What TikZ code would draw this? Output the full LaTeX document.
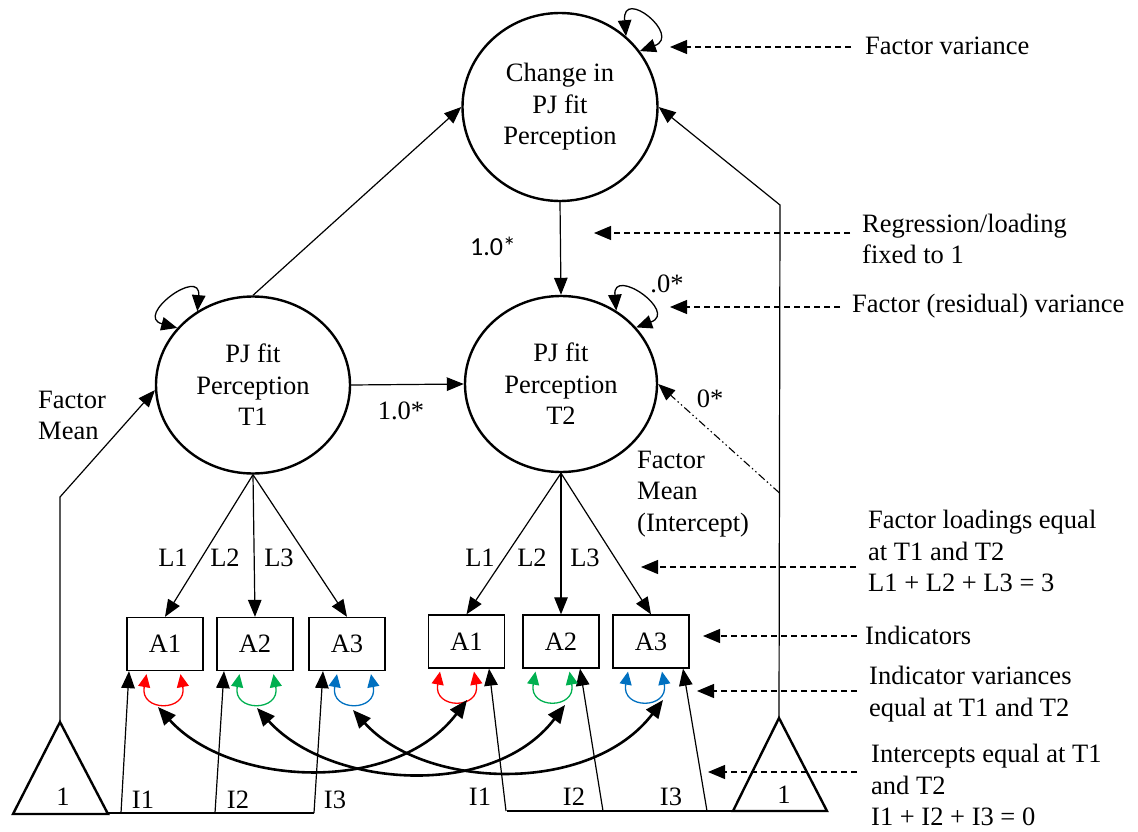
\documentclass[tikz,border=0pt]{standalone}
\usepackage{fontspec}
\setmainfont{Liberation Serif}
\newfontfamily\calibrifont{Carlito}
\usetikzlibrary{arrows.meta,shapes.geometric,calc}
\definecolor{varred}{RGB}{255,0,0}
\definecolor{vargreen}{RGB}{0,176,80}
\definecolor{varblue}{RGB}{0,112,192}

\begin{document}
\begin{tikzpicture}[x=1pt,y=1pt,
  lbl/.style={font=\fontsize{26.5}{31.5}\selectfont, inner sep=0pt, align=left},
  latent/.style={draw, line width=2.4pt, ellipse, inner sep=0pt, align=center,
    font=\fontsize{26.5}{31.5}\selectfont},
  indicator/.style={draw, line width=1.3pt, minimum width=76pt, minimum height=53pt,
    inner sep=0pt, font=\fontsize{26.5}{31.5}\selectfont},
  reg/.style={line width=1.2pt, -{Triangle[length=17pt,width=13.5pt]}},
  plain/.style={line width=1.2pt},
  cov/.style={line width=1.3pt, {Triangle[length=16pt,width=13.5pt]}-{Triangle[length=16pt,width=13.5pt]}},
  resid/.style={line width=1.3pt, {Triangle[length=13pt,width=12pt]}-{Triangle[length=13pt,width=12pt]}},
  cross/.style={line width=2.6pt, {Triangle[length=18pt,width=15pt]}-{Triangle[length=18pt,width=15pt]}},
  note/.style={line width=1.2pt, dash pattern=on 6pt off 4pt, -{Triangle[length=17pt,width=14pt]}},
  meanline/.style={line width=1.1pt, dash pattern=on 8pt off 3pt on 1.5pt off 3pt on 1.5pt off 3pt,
    -{Triangle[length=17pt,width=13.5pt]}},
]
\useasboundingbox (0,0) rectangle (1138,-832);

% latent factors
\node[latent, minimum width=195pt, minimum height=188pt] (ch) at (560,-107) {Change in\\PJ fit\\Perception};
\node[latent, minimum width=194pt, minimum height=177pt] (t1) at (253,-385) {PJ fit\\Perception\\T1};
\node[latent, minimum width=192pt, minimum height=176pt] (t2) at (561,-384) {PJ fit\\Perception\\T2};

% indicators
\node[indicator] (a11) at (165,-644) {A1};
\node[indicator] (a12) at (255,-644) {A2};
\node[indicator] (a13) at (347,-644) {A3};
\node[indicator] (a21) at (466.5,-641.5) {A1};
\node[indicator] (a22) at (561,-641.5) {A2};
\node[indicator] (a23) at (651,-641.5) {A3};

% structural paths
\draw[reg] (t1.north) -- (ch.west);
\draw[reg] (ch.south) -- (t2.north);
\draw[reg] (t1.east) -- (t2.west);
\node[font=\calibrifont\fontsize{26}{31}\selectfont, inner sep=0pt] (w1) at (493,-246) {1.0*};
\node[lbl] (w2) at (401,-411) {1.0*};

% factor variances
\draw[cov] (ch.47) .. controls +(95:50) and +(20:45) .. (ch.35);
\draw[cov] (t1.127) .. controls +(85:45) and +(165:45) .. (t1.143);
\draw[cov] (t2.53) .. controls +(95:45) and +(20:45) .. (t2.37);
\node[lbl] (v0) at (667,-284) {.0*};

% loadings
\foreach \f/\i in {t1/a11,t1/a12,t1/a13,t2/a21,t2/a22,t2/a23}
  \draw[reg] (\f.south) -- (\i.north);
\node[lbl] (l11) at (173,-558) {L1};
\node[lbl] (l12) at (225,-558) {L2};
\node[lbl] (l13) at (279,-558) {L3};
\node[lbl] (l21) at (480,-558) {L1};
\node[lbl] (l22) at (532,-558) {L2};
\node[lbl] (l23) at (585,-558) {L3};

% constant triangles
\coordinate (tri1) at (60,-722);
\coordinate (tri2) at (779,-718);
\draw[line width=2.4pt] (13,-814) -- (tri1) -- (108,-814) -- cycle;
\draw[line width=2.4pt] (733,-811) -- (tri2) -- (827,-811) -- cycle;
\node[lbl] (one1) at (63,-797) {1};
\node[lbl] (one2) at (784,-795) {1};

% factor means
\coordinate (bend1) at (60,-497);
\coordinate (bend2) at (780,-205);
\coordinate (mean2) at (779.5,-493);
\draw[reg] (tri1) -- (bend1) -- (t1.183);
\draw[reg] (tri2) -- (bend2) -- (ch.east);
\draw[meanline] (mean2) -- (t2.east);
\node[lbl] (fm1) at (38,-415.5) [anchor=west] {Factor\\Mean};
\node[lbl] (fm2) at (637,-494) [anchor=west] {Factor\\Mean\\(Intercept)};
\node[lbl] (z0) at (710,-399) {0*};

% intercepts
\draw[plain] (108,-813) -- (314,-813);
\draw[plain] (507,-811) -- (733,-811);
\coordinate (ib11) at (121,-813);
\coordinate (ib12) at (215,-813);
\coordinate (ib13) at (314,-813);
\coordinate (ib21) at (506,-811);
\coordinate (ib22) at (603,-811);
\coordinate (ib23) at (707,-811);
\draw[reg] (ib11) -- ($(a11.south)+(-36,0)$);
\draw[reg] (ib12) -- ($(a12.south)+(-31,0)$);
\draw[reg] (ib13) -- ($(a13.south)+(-24,0)$);
\draw[reg] (ib21) -- ($(a21.south)+(22.5,0)$);
\draw[reg] (ib22) -- ($(a22.south)+(19,0)$);
\draw[reg] (ib23) -- ($(a23.south)+(32,0)$);
\node[lbl] (i11) at (143,-800) {I1};
\node[lbl] (i12) at (238,-800) {I2};
\node[lbl] (i13) at (335,-800) {I3};
\node[lbl] (i21) at (480,-797) {I1};
\node[lbl] (i22) at (574,-797) {I2};
\node[lbl] (i23) at (671,-797) {I3};

% indicator residual variances
\foreach \i/\dx/\col in {a11/-1.5/varred, a12/1.5/vargreen, a13/7/varblue,
                         a21/-9.5/varred, a22/-8.5/vargreen, a23/-6/varblue}{
  \draw[resid, \col] ($(\i.south)+(\dx-17,-3)$) .. controls +(-7,-38) and +(7,-38) .. ($(\i.south)+(\dx+17,-3)$);
}

% residual covariances across time
\coordinate (r11) at (158,-707);
\coordinate (r12) at (257,-708);
\coordinate (r13) at (353,-710);
\coordinate (r21) at (467,-700);
\coordinate (r22) at (565,-705);
\coordinate (r23) at (663,-700);
\foreach \a/\b in {r11/r21, r12/r22, r13/r23}
  \draw[cross] (\a) .. controls +(72,-80) and +(-72,-95) .. (\b);

% annotations
\node[lbl, anchor=west] (n1) at (865,-46) {Factor variance};
\node[lbl, anchor=west] (n2) at (862,-239) {Regression/loading\\fixed to 1};
\node[lbl, anchor=west] (n3) at (852,-306) {Factor (residual) variance};
\node[lbl, anchor=west] (n4) at (868,-551) {Factor loadings equal\\at T1 and T2\\L1 + L2 + L3 = 3};
\node[lbl, anchor=west] (n5) at (865,-635) {Indicators};
\node[lbl, anchor=west] (n6) at (869,-694) {Indicator variances\\equal at T1 and T2};
\node[lbl, anchor=west] (n7) at (871,-785) {Intercepts equal at T1\\and T2\\I1 + I2 + I3 = 0};

\coordinate (p1) at (670,-47);
\coordinate (p2) at (594,-233);
\coordinate (p3) at (670,-307);
\coordinate (p4) at (641,-567);
\coordinate (p5) at (703,-636);
\coordinate (p6) at (697,-691);
\coordinate (p7) at (708,-772);
\draw[note] ($(n1.west |- p1)+(-14,0)$) -- (p1);
\draw[note] ($(n2.west |- p2)+(-12,0)$) -- (p2);
\draw[note] ($(n3.west |- p3)+(-12,0)$) -- (p3);
\draw[note] ($(n4.west |- p4)+(-12,0)$) -- (p4);
\draw[note] ($(n5.west |- p5)+(-8,0)$) -- (p5);
\draw[note] ($(n6.west |- p6)+(-12,0)$) -- (p6);
\draw[note] ($(n7.west |- p7)+(-14,0)$) -- (p7);
\end{tikzpicture}
\end{document}
